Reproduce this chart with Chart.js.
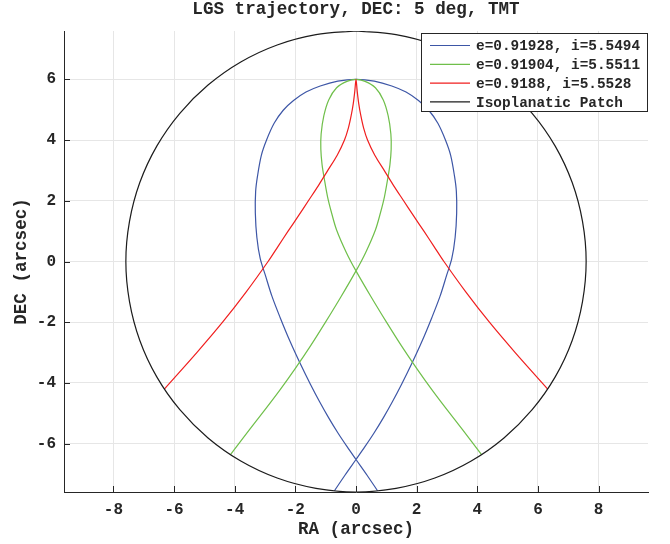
<!DOCTYPE html>
<html>
<head>
<meta charset="utf-8">
<script src="https://cdn.jsdelivr.net/npm/chart.js@4.4.1/dist/chart.umd.min.js"></script>
<style>
  html, body { margin: 0; padding: 0; background: #fff; }
</style>
</head>
<body>
<canvas id="lgsChart" width="670" height="544"></canvas>
<script>
const titleText = 'LGS trajectory, DEC: 5 deg, TMT';
const xLabel = 'RA (arcsec)';
const yLabel = 'DEC (arcsec)';
const xTicks = [-8, -6, -4, -2, 0, 2, 4, 6, 8];
const yTicks = [-6, -4, -2, 0, 2, 4, 6];
const xLimits = [-9.63, 9.63];
const yLimits = [-7.59, 7.59];

const seriesLabels = ['e=0.91928, i=5.5494', 'e=0.91904, i=5.5511', 'e=0.9188, i=5.5528', 'Isoplanatic Patch'];
const seriesColors = ['#3d56a6', '#6fbf4a', '#f01e1e', '#1c1c1c'];

const blueX = [-0.71, -0.36, 0, 0.30, 0.60, 0.90, 1.20, 1.50, 1.84, 2.18, 2.50, 2.77, 2.99, 3.16, 3.27, 3.32, 3.31, 3.25, 3.12, 2.95, 2.70, 2.40, 2.06, 1.65, 1.18, 0.60, 0,
  -0.60, -1.18, -1.65, -2.06, -2.40, -2.70, -2.95, -3.12, -3.25, -3.31, -3.32, -3.27, -3.16, -2.99, -2.77, -2.50, -2.18, -1.84, -1.50, -1.20, -0.90, -0.60, -0.30, 0, 0.36, 0.71];
const blueY = [-7.55, -7.03, -6.52, -6.09, -5.64, -5.15, -4.62, -4.05, -3.36, -2.62, -1.85, -1.15, -0.45, 0.10, 0.80, 1.60, 2.30, 2.80, 3.50, 4.00, 4.55, 4.98, 5.30, 5.58, 5.78, 5.94, 6.00,
  5.94, 5.78, 5.58, 5.30, 4.98, 4.55, 4.00, 3.50, 2.80, 2.30, 1.60, 0.80, 0.10, -0.45, -1.15, -1.85, -2.62, -3.36, -4.05, -4.62, -5.15, -5.64, -6.09, -6.52, -7.03, -7.55];

const greenX = [-4.14, -3.50, -3.00, -2.50, -2.00, -1.50, -1.00, -0.50, 0, 0.32, 0.64, 0.80, 0.94, 1.05, 1.12, 1.16, 1.15, 1.06, 0.90, 0.64, 0.30, 0,
  -0.30, -0.64, -0.90, -1.06, -1.15, -1.16, -1.12, -1.05, -0.94, -0.80, -0.64, -0.32, 0, 0.50, 1.00, 1.50, 2.00, 2.50, 3.00, 3.50, 4.14];
const greenY = [-6.36, -5.52, -4.88, -4.22, -3.52, -2.78, -1.99, -1.17, -0.31, 0.30, 1.04, 1.58, 2.14, 2.75, 3.20, 3.70, 4.20, 4.80, 5.32, 5.72, 5.93, 6.00,
  5.93, 5.72, 5.32, 4.80, 4.20, 3.70, 3.20, 2.75, 2.14, 1.58, 1.04, 0.30, -0.31, -1.17, -1.99, -2.78, -3.52, -4.22, -4.88, -5.52, -6.36];

const redX = [-6.32, -5.25, -4.40, -3.62, -2.90, -2.57, -2.24, -1.90, -1.57, -1.24, -0.93, -0.62, -0.38, -0.25, -0.16, -0.09, -0.04, 0,
  0.04, 0.09, 0.16, 0.25, 0.38, 0.62, 0.93, 1.24, 1.57, 1.90, 2.24, 2.57, 2.90, 3.62, 4.40, 5.25, 6.32];
const redY = [-4.20, -3.00, -2.00, -1.00, 0, 0.50, 1.00, 1.50, 2.00, 2.50, 3.00, 3.50, 4.00, 4.40, 4.80, 5.20, 5.60, 6.00,
  5.60, 5.20, 4.80, 4.40, 4.00, 3.50, 3.00, 2.50, 2.00, 1.50, 1.00, 0.50, 0, -1.00, -2.00, -3.00, -4.20];

// isoplanatic patch, every 10 degrees, starting at the top
const patchX = [0, -1.32, -2.60, -3.80, -4.88, -5.81, -6.57, -7.13, -7.47, -7.59, -7.47, -7.13, -6.57, -5.81, -4.88, -3.80, -2.60, -1.32,
  0, 1.32, 2.60, 3.80, 4.88, 5.81, 6.57, 7.13, 7.47, 7.59, 7.47, 7.13, 6.57, 5.81, 4.88, 3.80, 2.60, 1.32, 0];
const patchY = [7.59, 7.47, 7.13, 6.57, 5.81, 4.88, 3.80, 2.60, 1.32, 0, -1.32, -2.60, -3.80, -4.88, -5.81, -6.57, -7.13, -7.47,
  -7.59, -7.47, -7.13, -6.57, -5.81, -4.88, -3.80, -2.60, -1.32, 0, 1.32, 2.60, 3.80, 4.88, 5.81, 6.57, 7.13, 7.47, 7.59];

const mono = "'Nimbus Mono PS', 'Courier New', 'Liberation Mono', 'DejaVu Sans Mono', monospace";
const ink = '#262626';

function toPoints(xs, ys) {
    return xs.map((x, i) => ({ x: x, y: ys[i] }));
}

function makeSet(idx, xs, ys, tension, order) {
    return {
        label: seriesLabels[idx],
        data: toPoints(xs, ys),
        showLine: true,
        borderColor: seriesColors[idx],
        backgroundColor: seriesColors[idx],
        borderWidth: 1.2,
        pointRadius: 0,
        tension: tension,
        order: order
    };
}

// title, inward ticks and the legend box, matlab style
const decor = {
    id: 'decor',
    afterDraw(chart) {
        const ctx = chart.ctx;
        const area = chart.chartArea;
        const xs = chart.scales.x;
        const ys = chart.scales.y;
        ctx.save();

        ctx.strokeStyle = ink;
        ctx.lineWidth = 1;
        ctx.beginPath();
        xTicks.forEach(v => {
            const px = Math.round(xs.getPixelForValue(v)) + 0.5;
            ctx.moveTo(px, area.bottom);
            ctx.lineTo(px, area.bottom - 6);
        });
        yTicks.forEach(v => {
            const py = Math.round(ys.getPixelForValue(v)) + 0.5;
            ctx.moveTo(area.left, py);
            ctx.lineTo(area.left + 6, py);
        });
        ctx.stroke();

        ctx.fillStyle = ink;
        ctx.font = 'bold 17.6px ' + mono;
        ctx.textAlign = 'center';
        ctx.textBaseline = 'middle';
        ctx.fillText(titleText, (area.left + area.right) / 2, 10);

        const bx = 421.5, by = 33.5, bw = 226, bh = 78;
        ctx.fillStyle = '#ffffff';
        ctx.fillRect(bx, by, bw, bh);
        ctx.strokeStyle = ink;
        ctx.strokeRect(bx, by, bw, bh);
        ctx.font = 'bold 14.4px ' + mono;
        ctx.textAlign = 'left';
        chart.data.datasets.forEach((ds, i) => {
            const ry = by + 12 + i * 18.8;
            ctx.strokeStyle = ds.borderColor;
            ctx.lineWidth = 1.2;
            ctx.beginPath();
            ctx.moveTo(430, ry);
            ctx.lineTo(470, ry);
            ctx.stroke();
            ctx.fillStyle = ink;
            ctx.fillText(ds.label, 476, ry + 1);
        });
        ctx.restore();
    }
};

new Chart(document.getElementById('lgsChart').getContext('2d'), {
    type: 'scatter',
    data: {
        datasets: [
            makeSet(0, blueX, blueY, 0.33, 3),
            makeSet(1, greenX, greenY, 0.33, 2),
            makeSet(2, redX, redY, 0.3, 1),
            makeSet(3, patchX, patchY, 0.33, 0)
        ]
    },
    options: {
        responsive: false,
        animation: false,
        layout: { padding: { top: 31, right: 22, left: 0, bottom: 0 } },
        plugins: {
            legend: { display: false },
            title: { display: false },
            tooltip: { enabled: false }
        },
        scales: {
            x: {
                type: 'linear',
                min: xLimits[0],
                max: xLimits[1],
                afterBuildTicks: s => { s.ticks = xTicks.map(v => ({ value: v })); },
                afterFit: s => { s.height = 52; },
                grid: { color: '#e6e6e6', drawTicks: false },
                border: { color: ink, width: 1 },
                ticks: { padding: 8, color: ink, autoSkip: false, maxRotation: 0, font: { family: mono, size: 16, weight: 'bold' } },
                title: { display: true, text: xLabel, color: ink, padding: { top: 0, bottom: 4 }, font: { family: mono, size: 17.6, weight: 'bold' } }
            },
            y: {
                type: 'linear',
                min: yLimits[0],
                max: yLimits[1],
                afterBuildTicks: s => { s.ticks = yTicks.map(v => ({ value: v })); },
                afterFit: s => { s.width = 64; },
                grid: { color: '#e6e6e6', drawTicks: false },
                border: { color: ink, width: 1 },
                ticks: { padding: 8, color: ink, autoSkip: false, font: { family: mono, size: 16, weight: 'bold' } },
                title: { display: true, text: yLabel, color: ink, padding: { top: 11, bottom: 0 }, font: { family: mono, size: 17.6, weight: 'bold' } }
            }
        }
    },
    plugins: [decor]
});
</script>
</body>
</html>
